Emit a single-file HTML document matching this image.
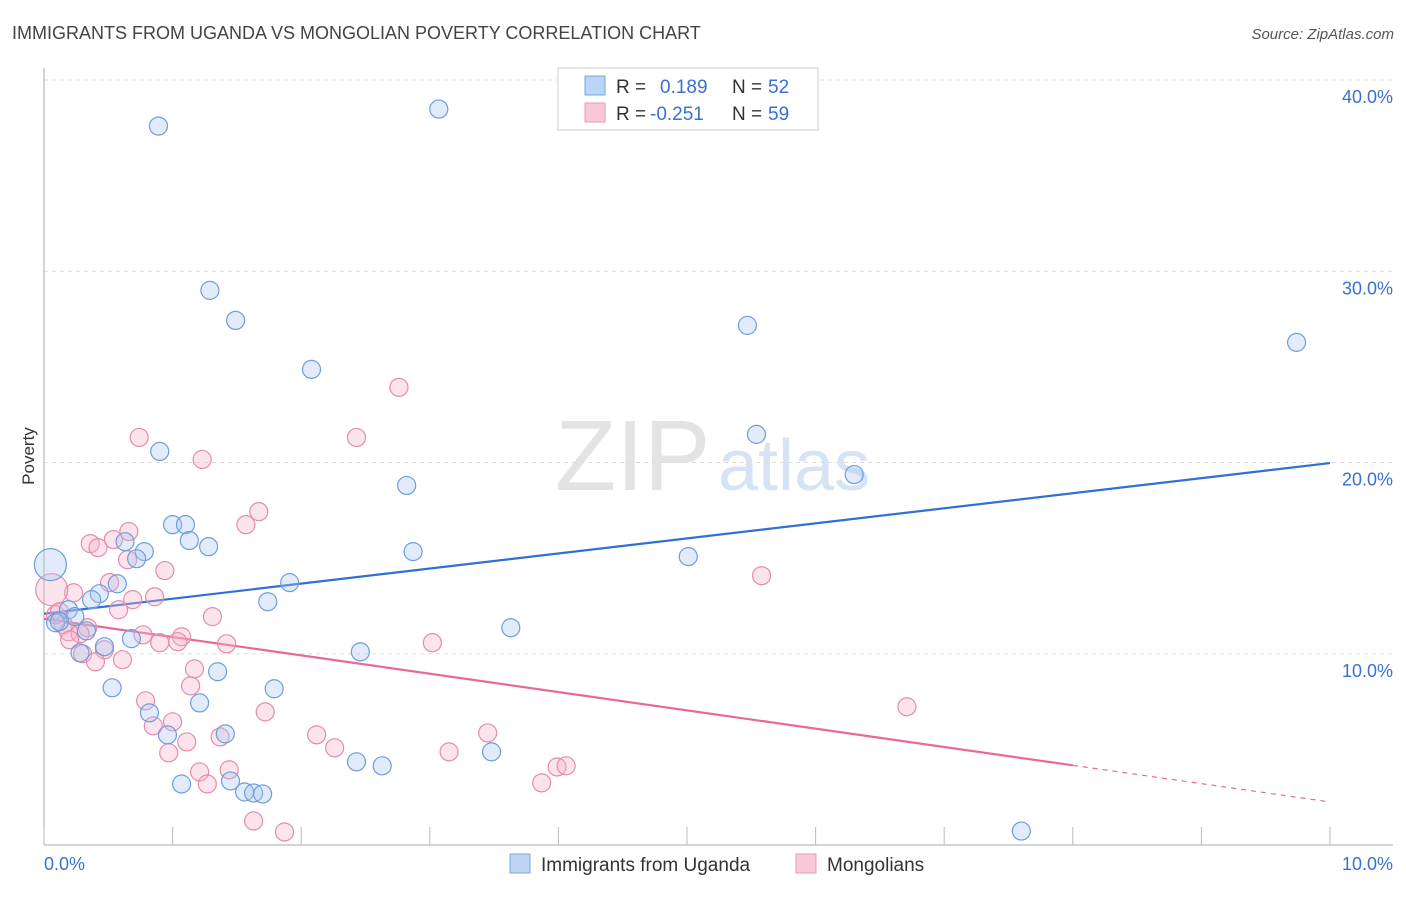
<!DOCTYPE html>
<html><head><meta charset="utf-8">
<style>
body{margin:0;background:#fff;font-family:"Liberation Sans",sans-serif;}
svg text{font-family:"Liberation Sans",sans-serif;}
</style></head>
<body>
<svg id="chart" width="1406" height="892" viewBox="0 0 1406 892" xmlns="http://www.w3.org/2000/svg">
<text x="12" y="39" font-size="18" fill="#444">IMMIGRANTS FROM UGANDA VS MONGOLIAN POVERTY CORRELATION CHART</text>
<text x="1394" y="39" font-size="15" fill="#555" text-anchor="end" font-style="italic">Source: ZipAtlas.com</text>
<text x="555" y="490" font-size="100" fill="#e3e3e3" font-family="Liberation Serif">ZIP</text>
<text x="718" y="490" font-size="72" fill="#d6e3f5">atlas</text>
<text x="34" y="456" font-size="17" fill="#333" transform="rotate(-90 34 456)" text-anchor="middle">Poverty</text>
<g id="grid"></g>
<g id="axes"></g>
<g id="lines"></g>
<g id="points"></g>
<g>
<rect x="558" y="68" width="260" height="62" fill="#fff" stroke="#ccc"/>
<rect x="585" y="76" width="20" height="19" fill="#bcd4f5" stroke="#7aa6e0"/>
<text x="616" y="93" font-size="19" fill="#333">R = </text><text x="660" y="93" font-size="19" fill="#3a70d0">0.189</text>
<text x="732" y="93" font-size="19" fill="#333">N = </text><text x="768" y="93" font-size="19" fill="#3a70d0">52</text>
<rect x="585" y="103" width="20" height="19" fill="#f9c8d8" stroke="#e89ab5"/>
<text x="616" y="120" font-size="19" fill="#333">R = </text><text x="650" y="120" font-size="19" fill="#3a70d0">-0.251</text>
<text x="732" y="120" font-size="19" fill="#333">N = </text><text x="768" y="120" font-size="19" fill="#3a70d0">59</text>
</g>
<g>
<rect x="510" y="854" width="20" height="19" fill="#bcd4f5" stroke="#7aa6e0"/>
<text x="541" y="871" font-size="19" fill="#333">Immigrants from Uganda</text>
<rect x="796" y="854" width="20" height="19" fill="#f9c8d8" stroke="#e89ab5"/>
<text x="827" y="871" font-size="19" fill="#333">Mongolians</text>
</g>
</svg>
<script>
const yTicks=[10,20,30,40];
const yTickLabels=["10.0%","20.0%","30.0%","40.0%"];
const xTicks=[0,1,2,3,4,5,6,7,8,9,10];
const xEndLabels=["0.0%","10.0%"];
const ugandaX=[.89,3.07,1.29,1.49,2.08,5.47,9.74,.90,5.54,6.30,2.82,1.00,1.10,1.13,1.28,.63,.78,.72,2.87,5.01,1.91,.57,.43,.37,.19,.24,.09,.12,.33,1.74,3.63,.68,.47,.28,2.46,1.35,.53,1.79,1.21,.82,.96,1.41,2.43,2.63,3.48,1.07,1.45,1.56,1.63,1.70,7.60,.05];
const ugandaY=[37.59,38.48,29.00,27.43,24.87,27.17,26.28,20.58,21.47,19.37,18.80,16.75,16.75,15.92,15.60,15.86,15.34,14.97,15.34,15.08,13.72,13.66,13.14,12.83,12.30,11.94,11.62,11.68,11.20,12.72,11.36,10.79,10.37,10.05,10.10,9.06,8.22,8.17,7.43,6.91,5.76,5.81,4.35,4.14,4.87,3.19,3.35,2.77,2.72,2.67,.73,14.66];
const ugandaBig=[51];
const mongX=[2.76,.74,2.43,1.23,1.67,1.57,.66,.54,.36,.42,.65,.94,5.58,.51,.23,.86,.69,.58,1.31,.06,.09,.15,.34,.19,.28,.77,1.07,1.04,.90,1.42,3.02,.47,.30,.40,.61,1.17,1.14,.79,1.72,6.71,1.00,.85,1.37,2.12,3.45,1.11,2.26,.97,3.15,3.99,4.06,1.21,1.44,1.27,3.87,1.63,1.87,.12,.20];
const mongY=[23.93,21.31,21.31,20.16,17.43,16.75,16.39,15.97,15.76,15.55,14.92,14.35,14.08,13.72,13.19,12.98,12.83,12.30,11.94,13.35,12.04,11.52,11.36,11.15,11.05,10.99,10.89,10.63,10.58,10.52,10.58,10.21,10.00,9.58,9.69,9.21,8.32,7.54,6.96,7.23,6.44,6.23,5.65,5.76,5.86,5.39,5.08,4.82,4.87,4.08,4.14,3.82,3.93,3.19,3.25,1.26,.68,12.20,10.73];
const mongBig=[19];
const ugandaFit=[12.09,0.788];
const mongFit=[11.83,-0.958];
const X0=44,X1=1330,Y0=845,YTOP=80;
const sx=v=>X0+(X1-X0)*v/10;
const sy=v=>Y0-(Y0-YTOP)*v/40;
const NS="http://www.w3.org/2000/svg";
function mk(tag,attrs,parent){const e=document.createElementNS(NS,tag);for(const k in attrs)e.setAttribute(k,attrs[k]);document.getElementById(parent).appendChild(e);return e;}
let gl=mk('line',{x1:X0,x2:1393,y1:YTOP,y2:YTOP,stroke:'#ddd','stroke-dasharray':'4,4'},'grid');


yTicks.forEach((t,i)=>{
 const l=mk('line',{x1:X0,x2:1393,y1:sy(t),y2:sy(t),stroke:'#ddd','stroke-dasharray':'4,4'},'grid');
 
 
 const tx=mk('text',{x:1393,y:sy(t)+23,'font-size':18,fill:'#3a70d0','text-anchor':'end'},'axes');
 tx.textContent=yTickLabels[i];
 
 
});
const ya=mk('line',{x1:X0,x2:X0,y1:68,y2:Y0,stroke:'#aaa'},'axes');


const xa=mk('line',{x1:X0,x2:1393,y1:Y0,y2:Y0,stroke:'#aaa'},'axes');


xTicks.forEach(t=>{
 const l=mk('line',{x1:sx(t),x2:sx(t),y1:Y0,y2:Y0-18,stroke:'#bbb'},'axes');
 
 
});
let xl=mk('text',{x:44,y:870,'font-size':18,fill:'#3a70d0'},'axes');xl.textContent=xEndLabels[0];


xl=mk('text',{x:1393,y:870,'font-size':18,fill:'#3a70d0','text-anchor':'end'},'axes');xl.textContent=xEndLabels[1];


function dots(xs,ys,big,fill,stroke,name){
 xs.forEach((x,i)=>{
  const c=mk('circle',{cx:sx(x),cy:sy(ys[i]),r:big.includes(i)?16:9,fill:fill,'fill-opacity':0.35,stroke:stroke,'stroke-width':1.2},'points');
  
  
 });
}
dots(mongX,mongY,mongBig,'#f5b3c8','#e48cab','mongolian-point');
dots(ugandaX,ugandaY,ugandaBig,'#a9c7f0','#6f9ddc','uganda-point');
const f=(p,x)=>p[0]+p[1]*x;
let r=mk('line',{x1:sx(0),y1:sy(f(ugandaFit,0)),x2:sx(10),y2:sy(f(ugandaFit,10)),stroke:'#2f6fd6','stroke-width':2.2},'lines');


r=mk('line',{x1:sx(0),y1:sy(f(mongFit,0)),x2:sx(8),y2:sy(f(mongFit,8)),stroke:'#e8689a','stroke-width':2.2},'lines');


r=mk('line',{x1:sx(8),y1:sy(f(mongFit,8)),x2:sx(10),y2:sy(f(mongFit,10)),stroke:'#e8689a','stroke-width':1.2,'stroke-dasharray':'5,5'},'lines');


</script>
</body></html>
